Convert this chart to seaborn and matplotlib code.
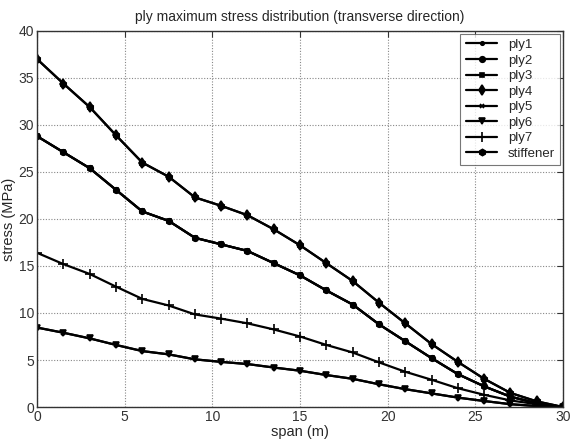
import matplotlib
matplotlib.use("Agg")
import matplotlib.pyplot as plt
import seaborn as sns
import pandas as pd

# span positions along the beam (m)
span = [0, 1.5, 3, 4.5, 6, 7.5, 9, 10.5, 12, 13.5, 15, 16.5, 18, 19.5, 21, 22.5, 24, 25.5, 27, 28.5, 30]

# maximum transverse stress per position (MPa)
stress_outer = [37.0, 34.4, 31.9, 28.9, 26.0, 24.5, 22.3, 21.4, 20.4, 18.9, 17.2, 15.3, 13.4, 11.1, 8.9, 6.7, 4.8, 3.0, 1.5, 0.6, 0.0]
stress_face = [28.8, 27.1, 25.4, 23.1, 20.8, 19.8, 18.0, 17.3, 16.6, 15.3, 14.0, 12.4, 10.9, 8.8, 7.0, 5.2, 3.5, 2.2, 1.1, 0.4, 0.0]
stress_mid = [16.4, 15.2, 14.15, 12.8, 11.5, 10.8, 9.85, 9.4, 8.9, 8.25, 7.5, 6.6, 5.8, 4.75, 3.75, 2.9, 2.0, 1.3, 0.7, 0.3, 0.0]
stress_core = [8.45, 7.9, 7.3, 6.6, 5.95, 5.6, 5.07, 4.8, 4.57, 4.2, 3.86, 3.4, 3.0, 2.42, 1.9, 1.45, 1.0, 0.64, 0.3, 0.1, 0.0]

series = ["ply1", "ply2", "ply3", "ply4", "ply5", "ply6", "ply7", "stiffener"]
series_stress = {
    "ply1": stress_face,
    "ply2": stress_face,
    "ply3": stress_face,
    "ply4": stress_outer,
    "ply5": stress_core,
    "ply6": stress_core,
    "ply7": stress_mid,
    "stiffener": stress_outer,
}
markers = {"ply1": ".", "ply2": "o", "ply3": "s", "ply4": "d", "ply5": "x",
           "ply6": "v", "ply7": "+", "stiffener": "h"}
marker_sizes = {"ply1": 5, "ply2": 4, "ply3": 3.5, "ply4": 5.5, "ply5": 3.5,
                "ply6": 5, "ply7": 7, "stiffener": 4.5}

df = pd.concat(
    [pd.DataFrame({"span": span, "stress": series_stress[name], "series": name}) for name in series],
    ignore_index=True,
)

sns.set_style("white")
plt.rcParams["font.family"] = ["Liberation Sans", "DejaVu Sans"]

fig = plt.figure(figsize=(5.71, 4.44), dpi=100)
ax = fig.add_axes([0.065, 0.0833, 0.921, 0.847])

for name in series:
    sub = df[df["series"] == name]
    sns.lineplot(data=sub, x="span", y="stress", ax=ax, color="black",
                 marker=markers[name], markersize=marker_sizes[name],
                 markerfacecolor="black", markeredgecolor="black",
                 markeredgewidth=1.2, linewidth=1.6, label=name)

ax.set_xlim(0, 30)
ax.set_ylim(0, 40)
ax.set_xticks([0, 5, 10, 15, 20, 25, 30])
ax.set_yticks([0, 5, 10, 15, 20, 25, 30, 35, 40])
ax.grid(True, linestyle=(0, (1, 1.5)), color="#888888", linewidth=0.8)
ax.tick_params(direction="in", length=4, top=True, right=True, labelsize=10,
               colors="#333333", pad=2)
for s in ax.spines.values():
    s.set_color("#333333")
    s.set_linewidth(1.0)
    s.set_visible(True)

ax.set_xlabel("span (m)", fontsize=10.5, labelpad=1)
ax.set_ylabel("stress (MPa)", fontsize=10.5, labelpad=2)
ax.set_title("ply maximum stress distribution (transverse direction)", fontsize=10, pad=7)

leg = ax.legend(loc="upper right", fontsize=9.5, frameon=True, fancybox=False,
                borderaxespad=0.2, handlelength=2.4, labelspacing=0.25,
                borderpad=0.4)
leg.get_frame().set_edgecolor("#555555")
leg.get_frame().set_linewidth(0.8)

fig.savefig("out.png", dpi=100)
